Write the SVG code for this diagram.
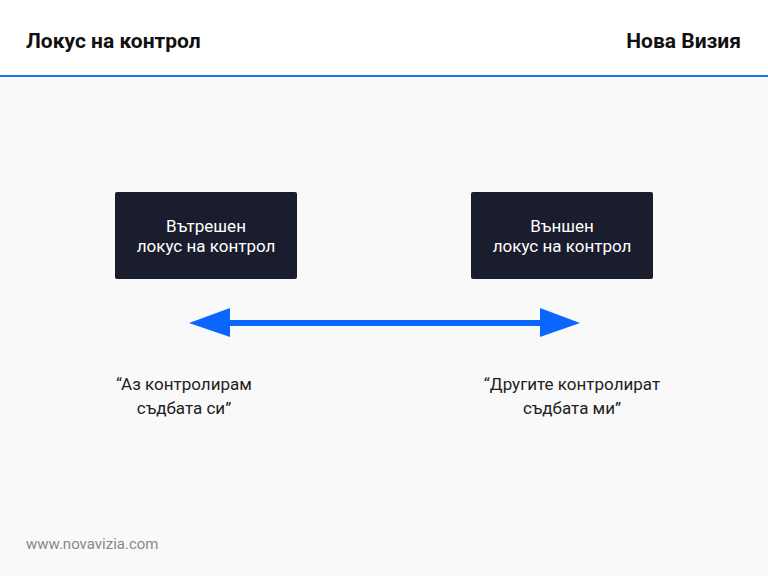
<svg xmlns="http://www.w3.org/2000/svg" width="768" height="576" viewBox="0 0 768 576">
<style>
text{font-family:Roboto,"Noto Sans",sans-serif}
.h{font-size:21px;font-weight:bold;fill:#111}
.b{fill:#1a1d2e}
.bt{font-size:17px;fill:#fff;text-anchor:middle}
.q{font-size:17px;fill:#222;text-anchor:middle}
</style>
<rect width="768" height="576" fill="#f9f9f9"/>
<rect width="768" height="76" fill="#fff"/>
<text class="h" x="26" y="48">Локус на контрол</text>
<text class="h" x="741" y="48" text-anchor="end">Нова Визия</text>
<line x1="0" y1="76" x2="768" y2="76" stroke="#1a73e8" stroke-width="2"/>
<g id="internal"><rect class="b" x="115" y="192" width="182" height="87" rx="2"/><text class="bt" x="206" y="232">Вътрешен</text><text class="bt" x="206" y="252">локус на контрол</text></g>
<g id="external"><rect class="b" x="471" y="192" width="182" height="87" rx="2"/><text class="bt" x="562" y="232">Външен</text><text class="bt" x="562" y="252">локус на контрол</text></g>
<g id="connectors"><line x1="225" y1="323" x2="545" y2="323" stroke="#0a66ff" stroke-width="6"/><polygon points="189,323 230,308 230,337" fill="#0a66ff"/><polygon points="580,323 540,308 540,337" fill="#0a66ff"/></g>
<g id="q1"><text class="q" x="184" y="390">“Аз контролирам</text><text class="q" x="184" y="414">съдбата си”</text></g>
<g id="q2"><text class="q" x="572" y="390">“Другите контролират</text><text class="q" x="572" y="414">съдбата ми”</text></g>
<text x="26" y="549" font-size="15" fill="#888">www.novavizia.com</text>
</svg>
